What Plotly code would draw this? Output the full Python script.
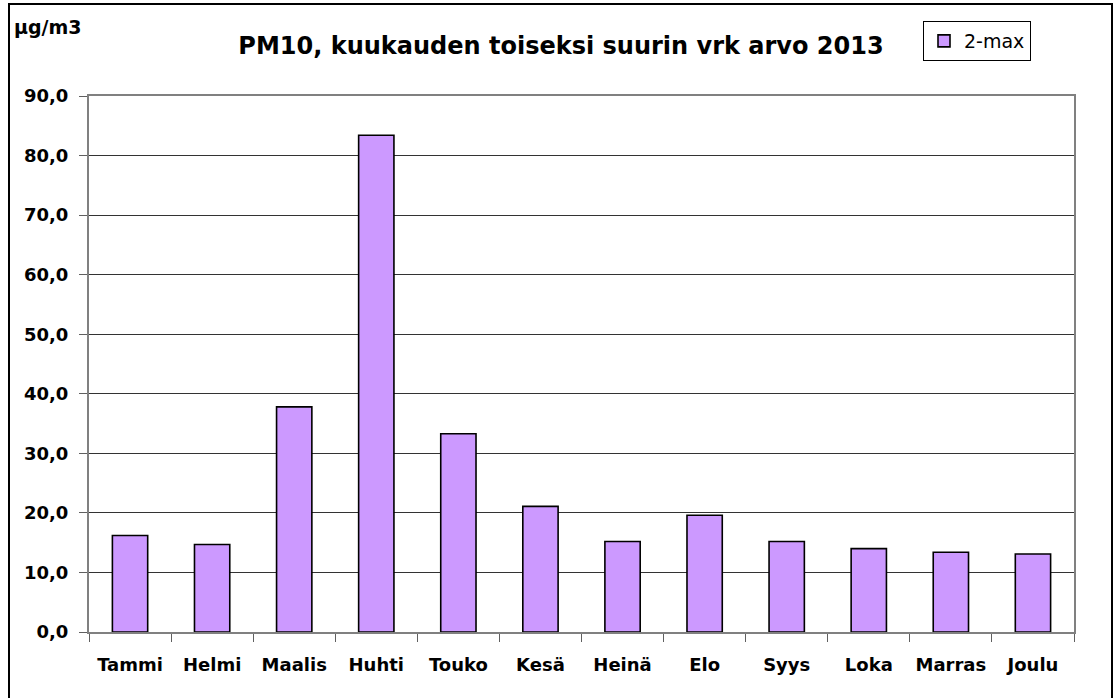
import plotly.graph_objects as go

months = ["Tammi", "Helmi", "Maalis", "Huhti", "Touko", "Kesä",
          "Heinä", "Elo", "Syys", "Loka", "Marras", "Joulu"]
values_2max = [16.2, 14.7, 37.8, 83.4, 33.3, 21.1, 15.2, 19.6, 15.2, 14.0, 13.4, 13.1]
y_ticks = [0, 10, 20, 30, 40, 50, 60, 70, 80, 90]

W, H = 1114, 698
L, R, T, B = 89, 1074, 96, 632

def px_x(px):
    return (px - L) / (R - L)

def px_y(py):
    return (B - py) / (B - T)

FONT = "DejaVu Sans, Liberation Sans, Arial, sans-serif"

fig = go.Figure()
fig.add_trace(go.Bar(
    x=months, y=values_2max, name="2-max",
    marker=dict(color="#CC99FF", line=dict(color="#000000", width=1.6)),
))

fig.update_layout(
    width=W, height=H,
    margin=dict(l=L, r=W - R, t=T, b=H - B, autoexpand=False),
    paper_bgcolor="white", plot_bgcolor="white",
    separators=",.",
    bargap=0.57,
    font=dict(family=FONT, color="black"),
    title=dict(text="PM10, kuukauden toiseksi suurin vrk arvo 2013",
               x=561 / W, y=1 - 46 / H, xanchor="center", yanchor="middle",
               xref="container", yref="container",
               font=dict(size=24, family=FONT, color="black", weight="bold")),
    showlegend=True,
    legend=dict(x=px_x(1031), y=px_y(21), xanchor="right", yanchor="top",
                bordercolor="black", borderwidth=1, bgcolor="white",
                font=dict(size=19, family=FONT), itemwidth=30,
                tracegroupgap=0),
    xaxis=dict(
        type="category", tickson="boundaries", ticks="outside", ticklen=8,
        tickcolor="#606060", showline=True, linecolor="#808080", linewidth=2,
        mirror=True, showgrid=False,
        tickfont=dict(size=18, family=FONT, color="black", weight="bold"),
        ticklabelstandoff=15,
    ),
    yaxis=dict(
        range=[0, 90], tickvals=y_ticks, tickformat=".1f",
        ticks="outside", ticklen=8, tickcolor="#606060",
        showline=True, linecolor="#808080", linewidth=2, mirror=True,
        showgrid=True, gridcolor="#333333", gridwidth=1,
        zeroline=False,
        tickfont=dict(size=18, family=FONT, color="black", weight="bold"),
        ticklabelstandoff=7,
    ),
    annotations=[dict(
        text="µg/m3", x=px_x(12), y=px_y(27), xref="paper", yref="paper",
        xanchor="left", yanchor="middle", showarrow=False,
        font=dict(size=19, family=FONT, color="black", weight="bold"))],
    shapes=[dict(
        type="rect", xref="paper", yref="paper",
        x0=px_x(9), x1=px_x(1112), y0=px_y(702), y1=px_y(4),
        line=dict(color="black", width=2), fillcolor="rgba(0,0,0,0)",
        layer="above")],
)

fig.write_html("out.html", config={"displayModeBar": False},
               post_script="document.body.style.margin='0';")
